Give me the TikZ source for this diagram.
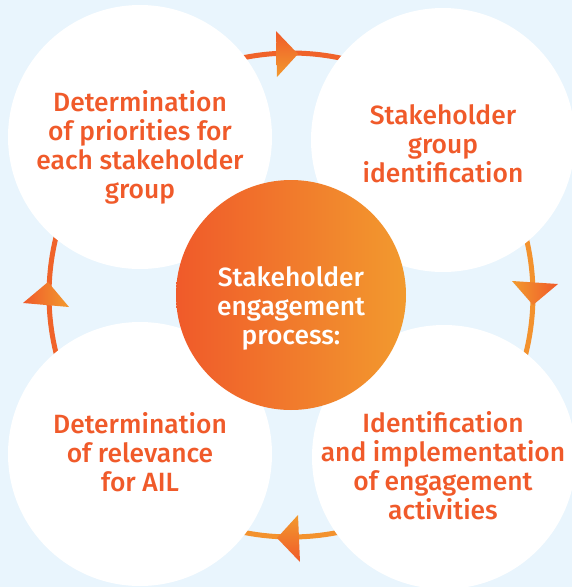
\documentclass[tikz,border=0pt]{standalone}
\usepackage{fontspec}
\setmainfont{Fira Sans}[UprightFont={* Medium}]
\definecolor{bgc}{HTML}{E9F5FD}
\definecolor{textc}{HTML}{F05A2A}
\definecolor{gradL}{HTML}{F05A2A}
\definecolor{gradR}{HTML}{F29A2E}
\definecolor{ringA}{HTML}{F0632A}
\definecolor{ringB}{HTML}{F3922E}
\begin{document}
\begin{tikzpicture}[x=1pt,y=-1pt,
  bubble/.style={circle, fill=white, minimum size=264pt, inner sep=0pt},
  lbl/.style={font=\fontsize{26.4}{29}\selectfont, text=textc, align=center, anchor=north, inner sep=0pt},
  ringline/.style={line width=5pt}]
\fill[bgc] (0,0) rectangle (572,587);
\useasboundingbox (0,0) rectangle (572,587);
\coordinate (rc) at (291,295);
% ring
\draw[ringline, ringA] ([shift={(225:242)}]rc) arc[start angle=225,end angle=315,radius=242];
\draw[ringline, ringB] ([shift={(-45:242)}]rc) arc[start angle=-45,end angle=45,radius=242];
\draw[ringline, ringB] ([shift={(45:242)}]rc) arc[start angle=45,end angle=135,radius=242];
\draw[ringline, ringA] ([shift={(135:242)}]rc) arc[start angle=135,end angle=225,radius=242];
% bubbles
\node[bubble] (tl) at (140,137) {};
\node[bubble] (tr) at (443,140) {};
\node[bubble] (bl) at (140,454) {};
\node[bubble] (br) at (444,457) {};
\node[circle, minimum size=230pt, inner sep=0pt, left color=gradL, right color=gradR] (core) at (291,295) {};
% arrowheads
\shade[top color=gradL, bottom color=gradR] (276,31) -- (298,54) -- (277,77) -- cycle;
\shade[left color=gradR, right color=gradL] (512,281) -- (558,284) -- (533,305) -- cycle;
\shade[top color=gradR, bottom color=gradL] (298,515) -- (277,538) -- (300,562) -- cycle;
\shade[left color=gradL, right color=gradR] (23,303) -- (48,282) -- (69,307) -- cycle;
% labels
\node[lbl] (tlt) at (140,90) {Determination\\of priorities for\\each stakeholder\\group};
\node[lbl] (trt) at (443,104) {Stakeholder\\group\\identification};
\node[lbl] (blt) at (140,412) {Determination\\of relevance\\for AIL};
\node[lbl] (brt) at (443,411) {Identification\\and implementation\\of engagement\\activities};
\node[lbl, text=white] (coret) at (291,266) {Stakeholder\\engagement\\process:};
\end{tikzpicture}
\end{document}
